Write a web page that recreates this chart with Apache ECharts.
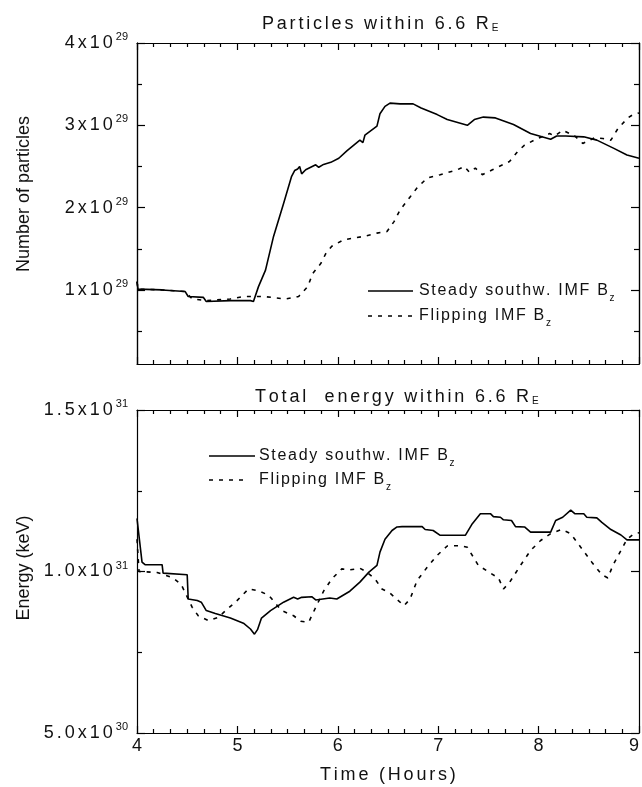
<!DOCTYPE html>
<html>
<head>
<meta charset="utf-8">
<title>Particles and total energy within 6.6 RE</title>
<script src="https://cdn.jsdelivr.net/npm/echarts@6.0.0/dist/echarts.min.js"></script>
<style>
  html, body { margin: 0; padding: 0; background: #fff; }
  #chart { width: 642px; height: 787px; }
</style>
</head>
<body>
<div id="chart"></div>
<script>
// time in hours; particles in units of 1e29, energy in units of 1e31 keV
const steadyParticles = [
  [4.00, 1.10], [4.01, 1.01], [4.25, 1.00], [4.26, 0.99], [4.48, 0.98], [4.51, 0.92], [4.66, 0.91],
  [4.69, 0.86], [4.93, 0.87], [5.13, 0.87], [5.16, 0.86], [5.21, 1.04], [5.28, 1.24], [5.36, 1.65],
  [5.46, 2.05], [5.54, 2.38], [5.57, 2.45], [5.60, 2.47], [5.62, 2.50], [5.64, 2.41], [5.68, 2.46],
  [5.78, 2.52], [5.81, 2.49], [5.85, 2.52], [5.93, 2.55], [6.01, 2.60], [6.09, 2.69], [6.22, 2.82],
  [6.25, 2.79], [6.27, 2.88], [6.39, 2.99], [6.42, 3.14], [6.47, 3.23], [6.52, 3.27], [6.62, 3.26],
  [6.75, 3.26], [6.83, 3.21], [6.99, 3.13], [7.09, 3.07], [7.29, 3.00], [7.36, 3.07], [7.45, 3.10],
  [7.57, 3.09], [7.75, 3.01], [7.92, 2.90], [8.12, 2.83], [8.18, 2.87], [8.27, 2.87], [8.45, 2.86],
  [8.58, 2.82], [8.75, 2.72], [8.88, 2.64], [9.00, 2.60]
];
const flipParticles = [
  [4.00, 1.10], [4.01, 1.01], [4.25, 1.00], [4.26, 0.99], [4.48, 0.98], [4.55, 0.89], [4.70, 0.87],
  [4.93, 0.89], [5.06, 0.92], [5.26, 0.92], [5.48, 0.89], [5.61, 0.92], [5.70, 1.04], [5.75, 1.20],
  [5.83, 1.32], [5.88, 1.44], [5.94, 1.53], [6.06, 1.61], [6.26, 1.65], [6.39, 1.69], [6.49, 1.71],
  [6.56, 1.83], [6.62, 1.97], [6.72, 2.13], [6.79, 2.24], [6.89, 2.36], [7.02, 2.40], [7.19, 2.46],
  [7.26, 2.50], [7.31, 2.43], [7.37, 2.48], [7.44, 2.40], [7.54, 2.46], [7.71, 2.56], [7.79, 2.68],
  [7.86, 2.76], [7.99, 2.84], [8.11, 2.90], [8.16, 2.87], [8.24, 2.94], [8.36, 2.87], [8.44, 2.78],
  [8.56, 2.85], [8.64, 2.84], [8.72, 2.82], [8.79, 2.96], [8.89, 3.09], [8.94, 3.13], [9.00, 3.15]
];
const steadyEnergy = [
  [4.00, 1.164], [4.05, 1.029], [4.08, 1.021], [4.25, 1.021], [4.26, 0.995], [4.50, 0.990],
  [4.51, 0.915], [4.60, 0.910], [4.64, 0.905], [4.69, 0.879], [4.78, 0.870], [4.93, 0.856],
  [5.06, 0.840], [5.13, 0.822], [5.17, 0.806], [5.20, 0.820], [5.24, 0.856], [5.33, 0.879],
  [5.46, 0.905], [5.56, 0.920], [5.60, 0.915], [5.64, 0.920], [5.74, 0.922], [5.78, 0.912],
  [5.92, 0.918], [5.99, 0.915], [6.12, 0.939], [6.22, 0.967], [6.31, 0.998], [6.39, 1.019],
  [6.42, 1.060], [6.47, 1.100], [6.54, 1.127], [6.59, 1.138], [6.64, 1.139], [6.84, 1.139],
  [6.87, 1.130], [6.95, 1.127], [7.02, 1.112], [7.27, 1.112], [7.34, 1.148], [7.42, 1.179],
  [7.52, 1.179], [7.55, 1.170], [7.62, 1.168], [7.65, 1.160], [7.73, 1.158], [7.77, 1.139],
  [7.86, 1.138], [7.92, 1.122], [8.12, 1.122], [8.17, 1.158], [8.24, 1.168], [8.32, 1.190],
  [8.36, 1.179], [8.45, 1.179], [8.48, 1.168], [8.58, 1.166], [8.63, 1.152], [8.72, 1.130],
  [8.82, 1.113], [8.88, 1.098], [9.00, 1.098]
];
const flipEnergy = [
  [4.00, 1.100], [4.02, 1.000], [4.20, 0.997], [4.36, 0.980], [4.44, 0.960], [4.55, 0.889],
  [4.61, 0.863], [4.71, 0.848], [4.81, 0.858], [4.89, 0.881], [4.99, 0.908], [5.11, 0.946],
  [5.21, 0.940], [5.31, 0.927], [5.44, 0.879], [5.56, 0.863], [5.63, 0.846], [5.71, 0.843],
  [5.78, 0.889], [5.86, 0.940], [5.94, 0.977], [6.04, 1.008], [6.12, 1.005], [6.22, 1.010],
  [6.28, 1.000], [6.37, 0.977], [6.44, 0.946], [6.52, 0.933], [6.66, 0.894], [6.72, 0.915],
  [6.79, 0.972], [6.89, 1.013], [6.99, 1.050], [7.09, 1.079], [7.22, 1.080], [7.29, 1.075],
  [7.40, 1.019], [7.52, 0.995], [7.60, 0.980], [7.65, 0.946], [7.71, 0.966], [7.82, 1.019],
  [7.92, 1.065], [8.02, 1.096], [8.12, 1.117], [8.23, 1.130], [8.32, 1.117], [8.42, 1.075],
  [8.53, 1.029], [8.63, 0.990], [8.69, 0.980], [8.74, 1.019], [8.82, 1.065], [8.88, 1.100],
  [8.95, 1.117], [9.00, 1.120]
];
const particleTicks = [1, 2, 3, 4];
const particleMinorTicks = [0.5, 1.5, 2.5, 3.5];

const FONT = 'Liberation Sans, Arial, sans-serif';
const INK = '#111';
const axisStroke = { color: '#000', width: 1.2 };

// split text into one rich token per character so it can be tracked out like the original
function spaced(text, key) {
  return text.split('').map(function (c) { return '{' + key + '|' + c + '}'; }).join('');
}

const labelRich = {
  n: { fontSize: 18, fontFamily: FONT, color: INK, padding: [0, 3, 0, 0], lineHeight: 20, verticalAlign: 'middle' },
  s: { fontSize: 11, fontFamily: FONT, color: INK, padding: [0, 0, 12, 0], lineHeight: 12, verticalAlign: 'middle' }
};
const titleRich = {
  t: { fontSize: 18, fontFamily: FONT, fill: INK, padding: [0, 2.8, 0, 0], lineHeight: 20, verticalAlign: 'middle' },
  e: { fontSize: 10, fontFamily: FONT, fill: INK, padding: [8, 0, 0, 0], lineHeight: 10, verticalAlign: 'middle' }
};
const legendRich = {
  l: { fontSize: 16, fontFamily: FONT, fill: INK, padding: [0, 1.7, 0, 0], lineHeight: 18, verticalAlign: 'middle' },
  z: { fontSize: 10, fontFamily: FONT, fill: INK, padding: [14, 0, 0, 0], lineHeight: 10, verticalAlign: 'middle' }
};

// hours axis: major tick every hour, minor every 10 minutes
function timeAxis(grid, pos, labels) {
  return {
    type: 'value', gridIndex: grid, position: pos, min: 4, max: 9, interval: 1,
    axisLine: { show: true, onZero: false, lineStyle: axisStroke },
    axisTick: { show: true, inside: true, length: 7, lineStyle: axisStroke },
    minorTick: { show: true, splitNumber: 6, length: 4, lineStyle: axisStroke },
    splitLine: { show: false },
    axisLabel: {
      show: labels, margin: 4, fontSize: 18, fontFamily: FONT, color: INK,
      alignMaxLabel: 'right'
    }
  };
}

// the particle range starts at 0.1, so its ticks are placed by value lists
function particleAxis(pos, values, len, labels) {
  return {
    type: 'value', gridIndex: 0, position: pos, min: 0.1, max: 4,
    axisLine: { show: true, onZero: false, lineStyle: axisStroke },
    axisTick: { show: true, inside: true, length: len, customValues: values, lineStyle: axisStroke },
    splitLine: { show: false },
    axisLabel: {
      show: labels, customValues: values, margin: 9, rich: labelRich,
      formatter: function (v) { return spaced(v + 'x10', 'n') + '{s|29}'; }
    }
  };
}

function energyAxis(pos, labels) {
  return {
    type: 'value', gridIndex: 1, position: pos, min: 0.5, max: 1.5, interval: 0.5,
    axisLine: { show: true, onZero: false, lineStyle: axisStroke },
    axisTick: { show: true, inside: true, length: 8, lineStyle: axisStroke },
    minorTick: { show: true, splitNumber: 2, length: 5, lineStyle: axisStroke },
    splitLine: { show: false },
    axisLabel: {
      show: labels, margin: 9, rich: labelRich,
      formatter: function (v) {
        if (v < 1) return spaced((v * 10).toFixed(1) + 'x10', 'n') + '{s|30}';
        return spaced(v.toFixed(1) + 'x10', 'n') + '{s|31}';
      }
    }
  };
}

function lineSeries(name, data, xi, yi, dashed) {
  return {
    name: name, type: 'line', xAxisIndex: xi, yAxisIndex: yi, data: data,
    symbol: 'none', silent: true,
    lineStyle: { color: '#000', width: 1.6, type: dashed ? [4, 6] : 'solid' }
  };
}

function label(x, y, text, rich) {
  return {
    type: 'text', x: x, y: y, silent: true,
    style: { text: text, rich: rich, align: 'left', verticalAlign: 'middle', fill: INK }
  };
}

const chart = echarts.init(document.getElementById('chart'));
const option = {
  animation: false,
  backgroundColor: '#fff',
  grid: [
    { left: 137, top: 43, width: 502, height: 321, outerBoundsMode: 'none' },
    { left: 137, top: 410, width: 502, height: 323, outerBoundsMode: 'none' }
  ],
  xAxis: [
    timeAxis(0, 'bottom', false),
    timeAxis(0, 'top', false),
    timeAxis(1, 'bottom', true),
    timeAxis(1, 'top', false)
  ],
  yAxis: [
    particleAxis('left', particleTicks, 8, true),
    particleAxis('right', particleTicks, 8, false),
    particleAxis('left', particleMinorTicks, 5, false),
    particleAxis('right', particleMinorTicks, 5, false),
    energyAxis('left', true),
    energyAxis('right', false)
  ],
  series: [
    lineSeries('Flipping IMF Bz', flipParticles, 0, 0, true),
    lineSeries('Steady southw. IMF Bz', steadyParticles, 0, 0, false),
    lineSeries('Flipping IMF Bz', flipEnergy, 2, 4, true),
    lineSeries('Steady southw. IMF Bz', steadyEnergy, 2, 4, false)
  ],
  graphic: [
    label(262, 24, spaced('Particles within 6.6 R', 't') + '{e|E}', titleRich),
    label(255, 397, spaced('Total  energy within 6.6 R', 't') + '{e|E}', titleRich),
    label(320, 775, spaced('Time (Hours)', 't'), titleRich),
    {
      type: 'text', x: 24, y: 194, rotation: Math.PI / 2, silent: true,
      style: { text: 'Number of particles', font: '18px ' + FONT, fill: INK, align: 'center', verticalAlign: 'middle' }
    },
    {
      type: 'text', x: 24, y: 568, rotation: Math.PI / 2, silent: true,
      style: { text: 'Energy (keV)', font: '18px ' + FONT, fill: INK, align: 'center', verticalAlign: 'middle' }
    },
    { type: 'line', silent: true, shape: { x1: 368, y1: 291, x2: 413, y2: 291 }, style: { stroke: '#000', lineWidth: 1.6 } },
    { type: 'line', silent: true, shape: { x1: 368, y1: 316, x2: 413, y2: 316 }, style: { stroke: '#000', lineWidth: 1.6, lineDash: [4, 6] } },
    label(419, 291, spaced('Steady southw. IMF B', 'l') + '{z|z}', legendRich),
    label(419, 316, spaced('Flipping IMF B', 'l') + '{z|z}', legendRich),
    { type: 'line', silent: true, shape: { x1: 209, y1: 456, x2: 255, y2: 456 }, style: { stroke: '#000', lineWidth: 1.6 } },
    { type: 'line', silent: true, shape: { x1: 209, y1: 480, x2: 249, y2: 480 }, style: { stroke: '#000', lineWidth: 1.6, lineDash: [4, 6] } },
    label(259, 456, spaced('Steady southw. IMF B', 'l') + '{z|z}', legendRich),
    label(259, 480, spaced('Flipping IMF B', 'l') + '{z|z}', legendRich)
  ]
};
chart.setOption(option);
</script>
</body>
</html>
